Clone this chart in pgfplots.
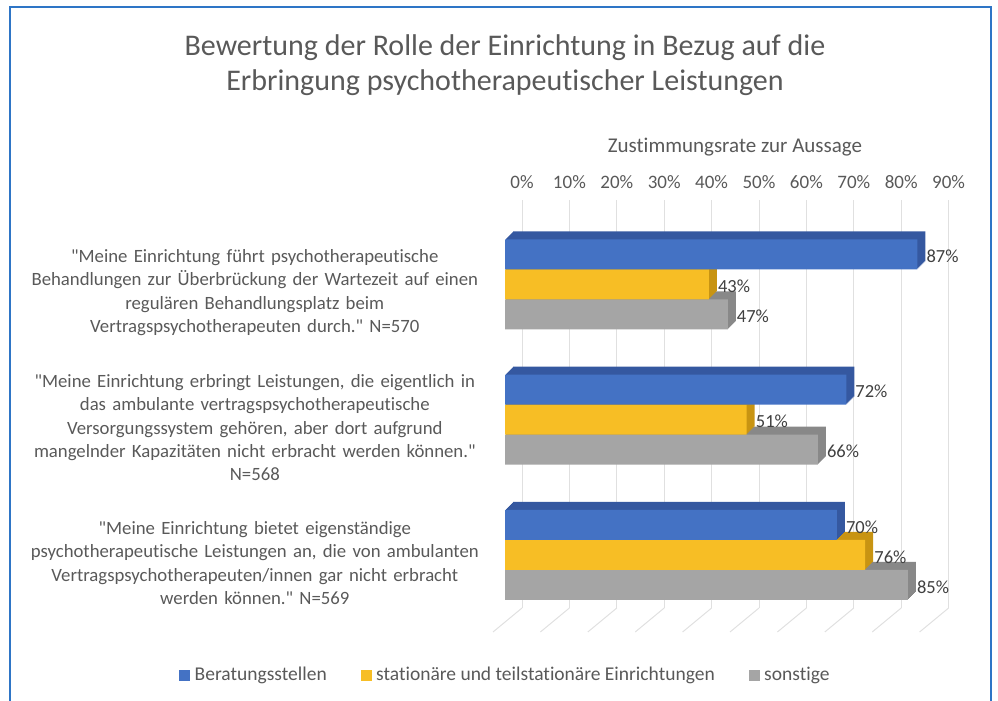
\documentclass[border=0pt]{standalone}
\usepackage{pgfplots}
\usepackage{pgfplotstable}
\pgfplotsset{compat=1.18}
\usepackage{fontspec}
\setmainfont{Carlito}[Ligatures={TeXOff,NoCommon}]
\definecolor{cblue}{HTML}{4472C4}
\definecolor{cyellow}{HTML}{F7BE25}
\definecolor{cgray}{HTML}{A5A5A5}
\definecolor{dblue}{HTML}{3558A0}
\definecolor{dyellow}{HTML}{C89412}
\definecolor{dgray}{HTML}{888888}
\definecolor{frameblue}{HTML}{2E75C6}
\definecolor{gridgray}{HTML}{E0E0E0}
\definecolor{labelgray}{HTML}{595959}
\definecolor{valgray}{HTML}{404040}

\pgfplotstableread{
y blue yellow gray
2 87 43 47
1 72 51 66
0 70 76 85
}\data

\begin{document}
\begin{tikzpicture}[x=1pt,y=1pt]
\path[use as bounding box] (0,0) rectangle (998,701);
\draw[frameblue, line width=2pt] (10,-10) -- (10,694) -- (991,694) -- (991,-10);
\node[font=\fontsize{30}{35}\selectfont, text=labelgray, align=center] at (505,636)
  {Bewertung der Rolle der Einrichtung in Bezug auf die\\Erbringung psychotherapeutischer Leistungen};
\node[font=\fontsize{21}{24}\selectfont, text=labelgray] at (735,554) {Zustimmungsrate zur Aussage};

% back plane: grid and tick labels
\begin{axis}[
  at={(522pt,93pt)}, anchor=south west, scale only axis,
  width=426.6pt, height=408pt,
  xmin=0, xmax=90, ymin=0, ymax=1,
  axis line style={draw=none}, major tick length=0pt,
  xtick={0,10,...,90}, ytick=\empty,
  xmajorgrids, grid style={draw=gridgray, line width=1pt},
  xticklabel pos=upper,
  /pgf/number format/assume math mode=true,
  xticklabel={\pgfmathprintnumber{\tick}\%},
  xticklabel style={font=\fontsize{19}{22}\selectfont, text=labelgray, anchor=base, yshift=11pt},
  clip=false,
]
\pgfplotsinvokeforeach{0,10,...,90}{
  \draw[gridgray, line width=1pt] (axis cs:#1,0) -- ++(-29pt,-24pt);
}
\end{axis}

% front: bars
\begin{axis}[
  at={(505pt,78.4pt)}, anchor=south west, scale only axis,
  width=426.6pt, height=405.75pt,
  xmin=0, xmax=90, ymin=-0.5, ymax=2.5,
  axis line style={draw=none}, major tick length=0pt,
  xtick=\empty, ytick={0,1,2},
  /pgf/number format/assume math mode=true,
  yticklabels={
    {"Meine Einrichtung bietet eigenständige\\psychotherapeutische Leistungen an, die von ambulanten\\Vertragspsychotherapeuten/innen gar nicht erbracht\\werden können." N=569},
    {"Meine Einrichtung erbringt Leistungen, die eigentlich in\\das ambulante vertragspsychotherapeutische\\Versorgungssystem gehören, aber dort aufgrund\\mangelnder Kapazitäten nicht erbracht werden können."\\N=568},
    {"Meine Einrichtung führt psychotherapeutische\\Behandlungen zur Überbrückung der Wartezeit auf einen\\regulären Behandlungsplatz beim\\Vertragspsychotherapeuten durch." N=570}
  },
  yticklabel style={font=\fontsize{18.75}{23.4}\selectfont, text=labelgray, text width=460pt, align=center, anchor=east, inner sep=0pt, xshift=-20pt, yshift=-8pt},
  xbar, bar width=30pt,
  clip=false,
  legend columns=3,
  legend style={at={(0.001,-0.129)}, anchor=center, draw=none, fill=none,
    font=\fontsize{19.5}{22}\selectfont, text=labelgray,
    /tikz/every even column/.append style={column sep=32pt},
    /tikz/every odd column/.append style={column sep=3pt}},
  nodes near coords={\pgfmathprintnumber{\pgfplotspointmeta}\%},
  every node near coord/.append style={font=\fontsize{18.5}{22}\selectfont, text=valgray, anchor=west, inner sep=0pt, xshift=9pt, yshift=-2pt},
]
\addlegendimage{legend image code/.code={\fill[cblue] (0pt,-5pt) rectangle (10pt,5pt);}}
\addlegendentry{Beratungsstellen}
\addlegendimage{legend image code/.code={\fill[cyellow] (0pt,-5pt) rectangle (10pt,5pt);}}
\addlegendentry{stationäre und teilstationäre Einrichtungen}
\addlegendimage{legend image code/.code={\fill[cgray] (0pt,-5pt) rectangle (10pt,5pt);}}
\addlegendentry{sonstige}

% gray series
\pgfplotsinvokeforeach{1,...,8}{
  \addplot[forget plot, fill=dgray, draw=none, bar shift=-30pt, xshift=#1pt, yshift=#1pt, nodes near coords={}] table[x=gray, y=y] {\data};
}
\addplot[forget plot, fill=cgray, draw=none, bar shift=-30pt] table[x=gray, y=y] {\data};
% yellow series
\pgfplotsinvokeforeach{1,...,8}{
  \addplot[forget plot, fill=dyellow, draw=none, bar shift=0pt, xshift=#1pt, yshift=#1pt, nodes near coords={}] table[x=yellow, y=y] {\data};
}
\addplot[forget plot, fill=cyellow, draw=none, bar shift=0pt] table[x=yellow, y=y] {\data};
% blue series
\pgfplotsinvokeforeach{1,...,8}{
  \addplot[forget plot, fill=dblue, draw=none, bar shift=30pt, xshift=#1pt, yshift=#1pt, nodes near coords={}] table[x=blue, y=y] {\data};
}
\addplot[forget plot, fill=cblue, draw=none, bar shift=30pt] table[x=blue, y=y] {\data};
\end{axis}
\end{tikzpicture}
\end{document}
